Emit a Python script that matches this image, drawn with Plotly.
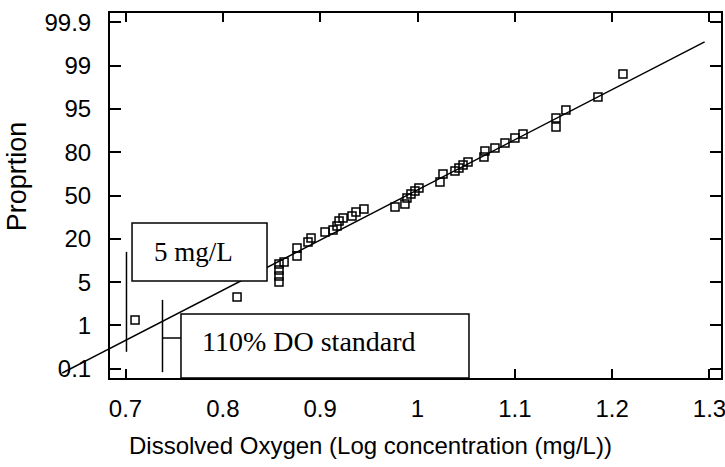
import plotly.graph_objects as go

# ---- data ----
# x: log10 dissolved oxygen (mg/L); y: position on the probability axis,
# expressed in tick-step units (0 -> 0.1 %, 1 -> 1 %, ... 8 -> 99.9 %)
do_log = [0.7098, 0.8146, 0.8577, 0.8577, 0.8577, 0.8577, 0.8629, 0.8762, 0.8762,
          0.8875, 0.8906, 0.9050, 0.9132, 0.9173, 0.9194, 0.9235, 0.9327, 0.9368,
          0.9450, 0.9769, 0.9871, 0.9892, 0.9933, 0.9974, 1.0015, 1.0231, 1.0262,
          1.0385, 1.0426, 1.0468, 1.0519, 1.0683, 1.0693, 1.0796, 1.0899, 1.1001,
          1.1084, 1.1423, 1.1423, 1.1525, 1.1854, 1.2111]
prob_pos = [1.125, 1.657, 2.419, 2.280, 2.142, 2.003, 2.465, 2.604, 2.789,
            2.928, 3.020, 3.159, 3.205, 3.297, 3.413, 3.482, 3.528, 3.621,
            3.690, 3.736, 3.806, 3.944, 4.037, 4.106, 4.175, 4.314, 4.499,
            4.568, 4.637, 4.707, 4.776, 4.892, 5.030, 5.100, 5.215, 5.331,
            5.423, 5.585, 5.793, 5.977, 6.278, 6.809]

fit_x = [0.635, 1.295]
fit_y = [-0.10, 7.55]

prob_labels = ["0.1", "1", "5", "20", "50", "80", "95", "99", "99.9"]
x_ticks = [0.7, 0.8, 0.9, 1.0, 1.1, 1.2, 1.3]
x_tick_labels = ["0.7", "0.8", "0.9", "1", "1.1", "1.2", "1.3"]

limit_5mg = 0.701      # 5 mg/L marker line
limit_110 = 0.738      # 110% DO standard marker line

x_title = "Dissolved Oxygen (Log concentration (mg/L))"
y_title = "Proprtion"

# ---- figure ----
XR = [0.68407, 1.31183]
YR = [-0.2149, 8.2186]

fig = go.Figure()
fig.add_trace(go.Scatter(x=fit_x, y=fit_y, mode="lines",
                         line=dict(color="black", width=1.5), hoverinfo="skip"))
fig.add_trace(go.Scatter(x=do_log, y=prob_pos, mode="markers",
                         marker=dict(symbol="square-open", size=8, color="black",
                                     line=dict(width=1.5, color="black"))))

# tail of fitted line that extends left of the frame (converted via axis ranges)
def y_at(x):
    return fit_y[0] + (fit_y[1] - fit_y[0]) * (x - fit_x[0]) / (fit_x[1] - fit_x[0])

def px(x):
    return (x - XR[0]) / (XR[1] - XR[0])

def py(y):
    return (y - YR[0]) / (YR[1] - YR[0])

fig.add_shape(type="line", xref="paper", yref="paper",
              x0=px(fit_x[0]), y0=py(fit_y[0]), x1=0, y1=py(y_at(XR[0])),
              line=dict(color="black", width=1.5), layer="above")

# vertical marker lines
fig.add_shape(type="line", xref="x", yref="y", x0=limit_5mg, x1=limit_5mg,
              y0=0.39, y1=2.70, line=dict(color="black", width=1.5), layer="above")
fig.add_shape(type="line", xref="x", yref="y", x0=limit_110, x1=limit_110,
              y0=-0.08, y1=1.59, line=dict(color="black", width=1.5), layer="above")
fig.add_shape(type="line", xref="x", yref="y", x0=limit_110, x1=0.757,
              y0=0.709, y1=0.709, line=dict(color="black", width=1.5), layer="above")

# label boxes
fig.add_shape(type="rect", xref="x", yref="y", x0=0.7067, x1=0.8454, y0=2.026, y1=3.366,
              fillcolor="white", line=dict(color="black", width=1.5), layer="above")
fig.add_shape(type="rect", xref="x", yref="y", x0=0.7570, x1=1.0529, y0=YR[0], y1=1.264,
              fillcolor="white", line=dict(color="black", width=1.5), layer="above")

serif = "Liberation Serif, Times New Roman, serif"
fig.add_annotation(x=0.7273, y=2.696, xref="x", yref="y", text="5 mg/L",
                   showarrow=False, xanchor="left", yanchor="middle",
                   font=dict(family=serif, size=27, color="black"))
fig.add_annotation(x=0.7765, y=0.624, xref="x", yref="y", text="110% DO standard",
                   showarrow=False, xanchor="left", yanchor="middle",
                   font=dict(family=serif, size=28, color="black"))

sans = "Liberation Sans, Arial, sans-serif"
fig.add_annotation(x=0.427, y=-0.1836, xref="paper", yref="paper", text=x_title,
                   showarrow=False, xanchor="center", yanchor="middle",
                   font=dict(family=sans, size=24, color="black"))
fig.add_annotation(x=-0.152, y=0.553, xref="paper", yref="paper", text=y_title,
                   showarrow=False, textangle=-90, xanchor="center", yanchor="middle",
                   font=dict(family=sans, size=27, color="black"))

fig.update_xaxes(range=XR, tickvals=x_ticks, ticktext=x_tick_labels, automargin=False,
                 ticklabeloverflow="allow",
                 showgrid=False, zeroline=False, showline=True, linecolor="black",
                 linewidth=2, mirror="ticks", ticks="inside", ticklen=9, tickwidth=1.5,
                 tickcolor="black", ticklabelstandoff=8,
                 tickfont=dict(family=sans, size=24, color="black"))
fig.update_yaxes(range=YR, tickvals=list(range(len(prob_labels))), ticktext=prob_labels,
                 automargin=False, ticklabeloverflow="allow",
                 showgrid=False, zeroline=False, showline=True, linecolor="black",
                 linewidth=2, mirror="ticks", ticks="inside", ticklen=11, tickwidth=1.5,
                 tickcolor="black", ticklabelstandoff=12,
                 tickfont=dict(family=sans, size=24, color="black"))

fig.update_layout(width=725, height=467, margin=dict(l=110, r=4, t=13, b=89),
                  plot_bgcolor="white", paper_bgcolor="white", showlegend=False)

fig.write_html("out.html", config={"displayModeBar": False},
               post_script="document.body.style.margin='0';")
